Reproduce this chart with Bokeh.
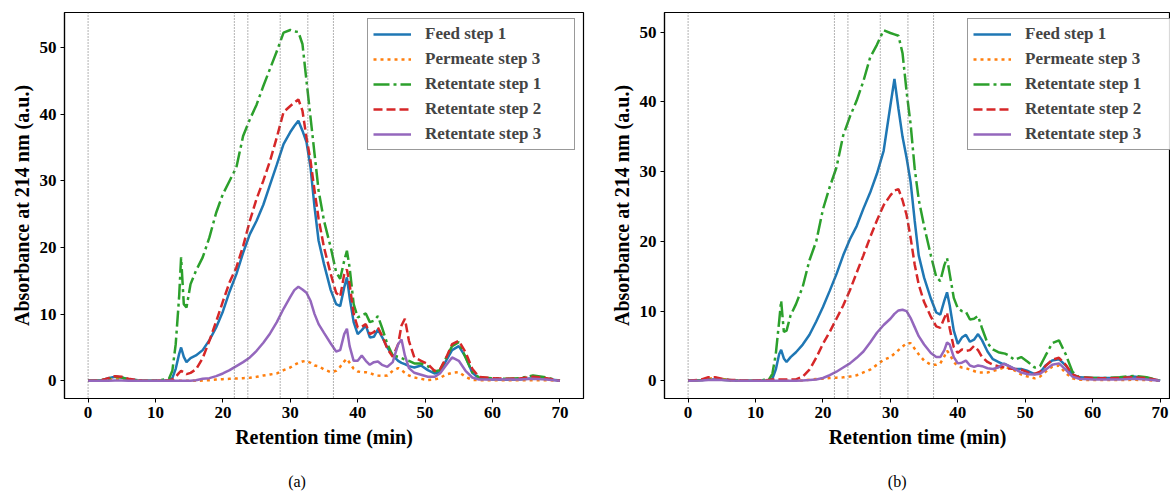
from bokeh.plotting import figure
from bokeh.models import Range1d, FixedTicker, Span, Legend, LegendItem, LinearAxis
from bokeh.layouts import row
from bokeh.embed import file_html
from bokeh.resources import INLINE

# ---------------- data ----------------
time_min = [0, 2, 3, 4, 5, 6, 8, 10, 12, 12.5,
            13, 13.5, 13.8, 14.2, 14.6, 15.2, 16, 17, 18, 19,
            20, 21, 22, 23, 24, 25, 26, 27, 28, 29,
            30, 30.6, 31.2, 31.8, 32.4, 33, 33.6, 34.2, 35, 36,
            36.8, 37.4, 38, 38.4, 38.8, 39.4, 40, 40.6, 41.2, 41.8,
            42.4, 43, 43.6, 44.4, 45.2, 46, 46.5, 47, 47.6, 48.4,
            49.4, 50.4, 51.4, 52.2, 53, 54, 55, 56, 57, 58,
            60, 62, 64, 66, 68, 70]

# panel (a)
feed1_a = [0, 0.1, 0.4, 0.6, 0.5, 0.2, 0.05, 0, 0.1, 0.4,
           1.8, 4.0, 5.0, 3.6, 2.8, 3.4, 3.8, 4.6, 6.1, 8.0,
           10.4, 13.4, 16.0, 19.2, 22.0, 24.0, 26.4, 29.4, 32.4, 35.5,
           37.3, 38.2, 39.0, 37.5, 35.8, 32.0, 26.0, 21.0, 17.5, 13.6,
           11.5, 11.2, 14.0, 15.5, 12.5, 8.8, 7.0, 7.6, 8.3, 6.5,
           6.6, 7.7, 6.6, 5.0, 3.8, 3.0, 2.7, 2.5, 2.2, 2.0,
           2.3, 1.6, 1.1, 1.3, 2.8, 4.6, 5.2, 3.6, 1.2, 0.4,
           0.2, 0.15, 0.2, 0.4, 0.3, 0.0]
perm3_a = [0, 0.1, 0.2, 0.3, 0.3, 0.1, 0, 0, 0, 0,
           0, 0, 0, 0, 0, 0, 0, 0.05, 0.1, 0.2,
           0.25, 0.3, 0.35, 0.4, 0.45, 0.6, 0.8, 0.95, 1.1, 1.6,
           2.0, 2.4, 2.7, 2.9, 3.0, 2.7, 2.3, 2.2, 1.7, 1.3,
           1.5, 2.1, 2.9, 3.3, 2.7, 1.8, 1.4, 1.3, 1.3, 1.2,
           0.9, 0.8, 0.75, 0.8, 1.5, 1.9, 1.6, 1.2, 0.8, 0.5,
           0.3, 0.1, 0.2, 0.4, 0.9, 1.2, 1.3, 0.6, 0.15, 0.1,
           0.1, 0.1, 0.1, 0.1, 0.1, 0.0]
ret1_a = [0, 0.1, 0.3, 0.6, 0.5, 0.2, 0.05, 0, 0.3, 1.5,
          5.5, 12.5, 18.5, 11.5, 11.0, 14.5, 16.5, 18.5, 21.5, 25.2,
          28.0, 30.0, 32.0, 36.7, 39.2, 41.4, 44.2, 46.8, 49.4, 52.2,
          52.6, 52.4, 52.3, 50.5, 45.0, 39.5, 34.0, 28.5, 24.0, 20.0,
          16.3, 15.3, 18.0, 19.5, 17.0, 11.5, 9.5, 9.8, 10.1, 8.8,
          9.0, 9.7, 8.0, 5.5, 3.8, 3.6, 3.4, 3.2, 3.0, 2.6,
          2.6, 2.2, 1.4, 1.6, 3.2, 5.2, 5.8, 3.5, 1.3, 0.5,
          0.4, 0.3, 0.4, 0.8, 0.5, 0.0]
ret2_a = [0, 0.1, 0.4, 0.7, 0.6, 0.3, 0.05, 0, 0.05, 0.2,
          0.6, 1.2, 1.5, 1.3, 1.0, 1.2, 1.7, 3.4, 6.0, 8.9,
          11.9, 14.8, 17.0, 20.2, 24.0, 27.3, 30.0, 33.0, 36.5, 40.3,
          41.2, 41.7, 42.2, 40.5, 36.5, 33.0, 28.5, 24.3, 20.0, 16.0,
          13.2, 12.6, 16.0, 16.7, 14.5, 10.0, 8.0, 8.1, 8.5, 7.0,
          7.3, 8.0, 6.8, 4.8, 3.6, 5.5, 8.3, 9.3, 6.0, 3.5,
          3.0, 2.5, 1.5, 1.7, 3.2, 5.5, 6.0, 4.3, 1.8, 0.6,
          0.4, 0.3, 0.35, 0.6, 0.4, 0.0]
ret3_a = [0, 0, 0, 0.05, 0.05, 0, 0, 0, 0, 0,
          0, 0, 0, 0, 0, 0, 0.1, 0.3, 0.4, 0.7,
          1.1, 1.6, 2.2, 2.8, 3.5, 4.5, 5.7, 7.1, 8.8, 10.8,
          12.6, 13.6, 14.1, 13.7, 13.2, 12.0, 10.0, 8.5, 7.2, 5.6,
          4.4, 4.6, 7.0, 7.8, 5.2, 3.0, 3.0, 3.8, 3.0, 2.4,
          2.8, 2.9, 2.4, 2.1, 2.8, 5.5, 6.2, 3.8, 1.9, 1.2,
          0.9, 0.6, 0.6, 1.1, 2.2, 3.5, 3.0, 1.5, 0.5, 0.2,
          0.2, 0.2, 0.2, 0.3, 0.2, 0.0]

# panel (b)
feed1_b = [0, 0.1, 0.2, 0.2, 0.15, 0.1, 0, 0, 0.05, 0.3,
           1.6, 3.8, 4.45, 3.2, 2.7, 3.4, 4.1, 5.2, 6.6, 8.5,
           10.6, 12.9, 15.3, 18.0, 20.3, 22.2, 24.7, 27.0, 29.7, 33.0,
           39.5, 43.3, 39.0, 35.0, 32.0, 28.5, 23.0, 18.0, 14.8, 11.8,
           9.8, 9.5, 11.5, 12.7, 10.8, 7.2, 5.3, 6.2, 6.6, 5.6,
           5.9, 6.7, 5.8, 4.2, 3.1, 2.7, 2.5, 2.4, 2.1, 1.7,
           1.7, 1.4, 0.95, 1.2, 2.2, 2.9, 3.1, 2.2, 0.9, 0.5,
           0.4, 0.4, 0.4, 0.6, 0.4, 0.0]
perm3_b = [0, 0.1, 0.3, 0.4, 0.3, 0.1, 0, 0, 0, 0,
           0, 0, 0, 0, 0, 0, 0, 0.05, 0.15, 0.25,
           0.3, 0.4, 0.45, 0.5, 0.6, 0.8, 1.2, 1.6, 2.3, 3.0,
           3.4, 3.9, 4.4, 4.9, 5.4, 5.4, 4.6, 3.8, 2.9, 2.3,
           2.3, 2.5, 3.5, 4.3, 3.8, 2.7, 2.1, 1.9, 1.8, 1.6,
           1.4, 1.2, 1.2, 1.2, 1.4, 1.6, 1.8, 2.0, 1.8, 1.5,
           0.9, 0.6, 0.35, 0.6, 1.3, 2.0, 2.2, 1.1, 0.35, 0.15,
           0.1, 0.1, 0.1, 0.15, 0.1, 0.0]
ret1_b = [0, 0.1, 0.2, 0.2, 0.15, 0.1, 0, 0, 0.2, 1.0,
          3.8, 8.5, 11.5, 7.0, 7.2, 9.4, 11.0, 13.5, 17.3, 20.0,
          24.6, 27.8, 30.6, 35.2, 37.9, 40.2, 43.0, 46.4, 48.2, 50.3,
          49.9, 49.7, 49.5, 47.0, 41.5, 36.8, 30.5, 26.0, 22.2, 18.0,
          14.9, 14.3, 16.6, 17.6, 15.3, 11.9, 10.4, 10.0, 9.9, 8.8,
          8.9, 9.3, 7.5, 5.4, 4.5, 4.1, 4.0, 3.9, 3.6, 3.0,
          3.4, 2.7, 1.9, 2.1, 3.6, 5.4, 5.8, 3.8, 1.3, 0.5,
          0.4, 0.4, 0.5, 0.7, 0.5, 0.0]
ret2_b = [0, 0.2, 0.5, 0.5, 0.3, 0.15, 0.05, 0.05, 0.1, 0.2,
          0.2, 0.2, 0.2, 0.2, 0.2, 0.2, 0.2, 0.6, 1.6, 3.3,
          5.3, 7.0, 8.9, 10.8, 13.0, 15.5, 18.0, 20.6, 23.0, 25.2,
          26.6, 27.3, 27.5, 25.9, 23.8, 20.5, 16.7, 13.8, 11.3, 9.2,
          7.8, 7.6, 9.0, 9.8, 7.5, 4.8, 4.0, 4.5, 4.3, 4.4,
          5.0, 4.4, 3.4, 2.7, 2.3, 2.1, 2.0, 1.9, 1.75, 1.7,
          1.6, 1.2, 1.0, 1.3, 2.1, 3.0, 3.3, 2.3, 0.9, 0.5,
          0.4, 0.35, 0.4, 0.5, 0.4, 0.0]
ret3_b = [0, 0.05, 0.1, 0.15, 0.1, 0.05, 0, 0, 0, 0,
          0, 0, 0, 0, 0, 0, 0, 0.05, 0.1, 0.2,
          0.4, 0.8, 1.3, 1.9, 2.5, 3.3, 4.2, 5.5, 6.9, 8.0,
          8.9, 9.6, 10.1, 10.2, 10.0, 9.0, 7.7, 6.4, 5.2, 4.0,
          3.4, 3.4, 4.4, 5.5, 5.2, 3.4, 2.5, 2.6, 2.9, 2.2,
          2.0, 2.2, 2.1, 1.8, 1.7, 1.9, 2.3, 2.4, 2.1, 1.7,
          1.2, 0.95, 0.9, 1.0, 1.6, 2.3, 2.5, 1.6, 0.6, 0.3,
          0.2, 0.2, 0.2, 0.3, 0.2, 0.0]

series_labels = ["Feed step 1", "Permeate step 3", "Retentate step 1",
                 "Retentate step 2", "Retentate step 3"]
marker_times = [0, 21.7, 23.7, 28.5, 32.6, 36.4]
x_ticks = [0, 10, 20, 30, 40, 50, 60, 70]
y_ticks = [0, 10, 20, 30, 40, 50]

# ---------------- styles ----------------
COLORS = ["#1f77b4", "#ff7f0e", "#2ca02c", "#d62728", "#9467bd"]
DASHES = ["solid", "3 4", "16 4 3 4", "9 4", "solid"]
FONT = "Liberation Serif"
CAPTION_AT = 31   # the sub-figure caption sits under this x position


def make_panel(series, width, x_end, y_start, y_end, min_right, caption):
    p = figure(width=width, height=492,
               x_range=Range1d(-3.5, x_end), y_range=Range1d(y_start, y_end),
               output_backend="svg", toolbar_location=None,
               title_location=None,
               min_border_left=64, min_border_right=min_right,
               min_border_top=12, min_border_bottom=94)
    p.background_fill_color = "white"
    p.border_fill_color = "white"
    p.outline_line_color = "black"
    p.outline_line_width = 1.2
    p.xgrid.visible = False
    p.ygrid.visible = False

    for loc in marker_times:
        p.add_layout(Span(location=loc, dimension="height", line_color="#666666",
                          line_width=1, line_dash="1 2"))

    items = []
    for lab, ys, col, dash in zip(series_labels, series, COLORS, DASHES):
        r = p.line(time_min, ys, line_color=col, line_width=2.5, line_dash=dash)
        items.append(LegendItem(label=lab, renderers=[r]))

    legend = Legend(items=items, location=(303, 248),
                    label_text_font=FONT, label_text_font_style="bold",
                    label_text_font_size="17px",
                    glyph_width=38, glyph_height=20, label_height=20,
                    label_width=144, label_standoff=14,
                    spacing=5, padding=5, margin=0,
                    border_line_color="#333333", border_line_width=1,
                    background_fill_color="white", background_fill_alpha=0.85)
    p.add_layout(legend)

    p.xaxis.ticker = FixedTicker(ticks=x_ticks)
    p.yaxis.ticker = FixedTicker(ticks=y_ticks)
    p.xaxis.axis_label = "Retention time (min)"
    p.yaxis.axis_label = "Absorbance at 214 nm (a.u.)"
    for ax in (p.xaxis, p.yaxis):
        ax.axis_label_text_font = FONT
        ax.axis_label_text_font_style = "bold"
        ax.axis_label_text_font_size = "20px"
        ax.axis_label_text_color = "black"
        ax.major_label_text_font = FONT
        ax.major_label_text_font_style = "bold"
        ax.major_label_text_font_size = "17px"
        ax.major_label_text_color = "black"
        ax.major_tick_out = 4
        ax.major_tick_in = 0
        ax.minor_tick_out = 0
        ax.minor_tick_in = 0
        ax.major_tick_line_color = "black"
        ax.axis_line_color = "black"
        ax.axis_line_width = 1.2
        ax.major_label_standoff = 4
    p.xaxis.axis_label_standoff = 5
    p.yaxis.axis_label_standoff = 4

    # sub-figure caption: a line-less axis under the real x axis whose only
    # tick label is the caption text
    cap = LinearAxis(ticker=FixedTicker(ticks=[CAPTION_AT]),
                     major_label_overrides={CAPTION_AT: caption},
                     axis_line_color=None, major_tick_line_color=None,
                     minor_tick_line_color=None,
                     major_tick_out=0, major_tick_in=0,
                     minor_tick_out=0, minor_tick_in=0,
                     major_label_standoff=22,
                     major_label_text_font=FONT, major_label_text_font_style="normal",
                     major_label_text_font_size="16px", major_label_text_color="black")
    p.add_layout(cap, "below")
    return p


pa = make_panel([feed1_a, perm3_a, ret1_a, ret2_a, ret3_a],
                600, 73.5, -2.65, 55.22, 17, "(a)")
pb = make_panel([feed1_b, perm3_b, ret1_b, ret2_b, ret3_b],
                570, 71.54, -2.54, 52.84, 0, "(b)")

layout = row(pa, pb)
open("out.html", "w").write(file_html(layout, INLINE))
